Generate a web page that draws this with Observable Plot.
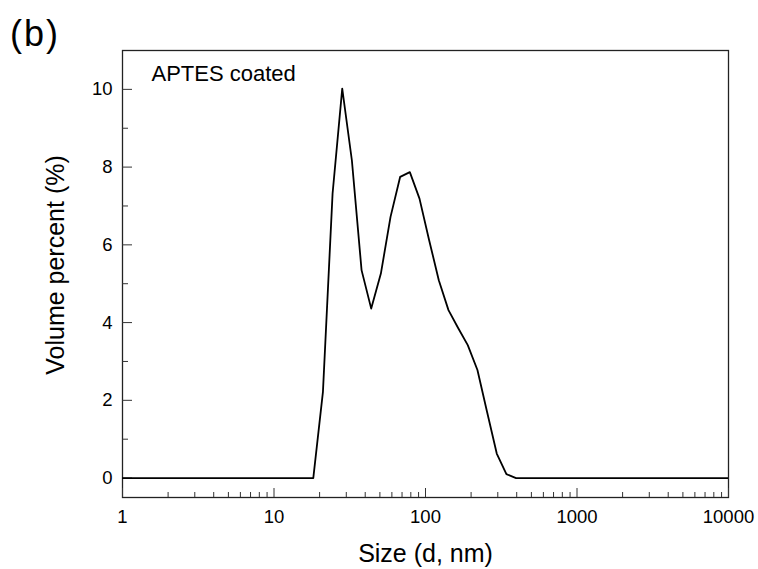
<!DOCTYPE html>
<html>
<head>
<meta charset="utf-8">
<script src="https://cdn.jsdelivr.net/npm/d3@7"></script>
<script src="https://cdn.jsdelivr.net/npm/@observablehq/plot@0.6"></script>
<style>
  html, body { margin: 0; padding: 0; background: #fff; }
  #wrap { position: relative; width: 758px; height: 569px; font-family: "Liberation Sans", Arial, sans-serif; }
  #panel { position: absolute; left: 10px; top: 16px; font-size: 36px; letter-spacing: 2px; line-height: 1; color: #000; z-index: 2; }
</style>
</head>
<body>
<div id="wrap"><div id="panel">(b)</div></div>
<script>
// Hydrodynamic size bins (nm) and volume percent (%)
const sizes = [0.9649, 1.117, 1.294, 1.499, 1.736, 2.01, 2.328, 2.696, 3.122, 3.615, 4.187, 4.849, 5.615, 6.503, 7.531, 8.721, 10.1, 11.7, 13.54, 15.69,
  18.17, 21.04, 24.36, 28.21, 32.67, 37.84, 43.82, 50.75, 58.77, 68.06, 78.82, 91.28, 105.7, 122.4, 141.8, 164.2, 190.1, 220.2, 255.0, 295.3, 342.0, 396.1,
  458.7, 531.2, 615.1, 712.4, 825.0, 955.4, 1106, 1281, 1484, 1718, 1990, 2305, 2669, 3091, 3580, 4145, 4801, 5560, 6439, 7456, 8635, 10000];
const volume = [0, 0, 0, 0, 0, 0, 0, 0, 0, 0, 0, 0, 0, 0, 0, 0, 0, 0, 0, 0,
  0, 2.22, 7.32, 10.02, 8.17, 5.35, 4.36, 5.26, 6.72, 7.75, 7.87, 7.19, 6.12, 5.09, 4.32, 3.86, 3.42, 2.78, 1.70, 0.63, 0.10, 0,
  0, 0, 0, 0, 0, 0, 0, 0, 0, 0, 0, 0, 0, 0, 0, 0, 0, 0, 0, 0, 0, 0];
const xMajor = [1, 10, 100, 1000, 10000];
const xMinor = [2,3,4,5,6,7,8,9,20,30,40,50,60,70,80,90,200,300,400,500,600,700,800,900,2000,3000,4000,5000,6000,7000,8000,9000];
const yMajor = [0, 2, 4, 6, 8, 10];
const yMinor = [1, 3, 5, 7, 9];
const xTitle = "Size (d, nm)";
const yTitle = "Volume percent (%)";
const sampleLabel = "APTES coated";

const data = sizes.map((s, i) => ({size: s, vol: volume[i]}));

const chart = Plot.plot({
  width: 758,
  height: 569,
  marginLeft: 122,
  marginRight: 30,
  marginTop: 50,
  marginBottom: 72,
  style: {fontFamily: "Liberation Sans, Arial, sans-serif", fontSize: "18px", color: "#000", background: "transparent"},
  x: {type: "log", domain: [1, 10000]},
  y: {domain: [-0.5, 11]},
  marks: [
    Plot.frame({stroke: "#222", strokeWidth: 1.3}),
    Plot.axisX({ticks: xMajor, tickSize: -9, tickPadding: 21, tickFormat: d => String(d), label: null, fontSize: 18.5, stroke: "#333"}),
    Plot.axisX({ticks: xMinor, tickSize: -5, tickFormat: () => "", label: null, stroke: "#333"}),
    Plot.axisY({ticks: yMajor, tickSize: -10, tickPadding: 20, tickFormat: d => String(d), label: null, fontSize: 18.5, stroke: "#333"}),
    Plot.axisY({ticks: yMinor, tickSize: -6, tickFormat: () => "", label: null, stroke: "#333"}),
    Plot.line(data, {x: "size", y: "vol", stroke: "#000", strokeWidth: 1.8, clip: true}),
    Plot.text([sampleLabel], {frameAnchor: "top-left", text: d => d, dx: 29, dy: 15, fontSize: 22, textAnchor: "start", lineAnchor: "top"}),
    Plot.text([xTitle], {frameAnchor: "bottom", text: d => d, dy: 56, fontSize: 25, textAnchor: "middle", lineAnchor: "middle"}),
    Plot.text([yTitle], {frameAnchor: "left", text: d => d, dx: -67, dy: -9, rotate: -90, fontSize: 25, textAnchor: "middle", lineAnchor: "middle"})
  ]
});
document.getElementById("wrap").appendChild(chart);
chart.style.position = "absolute";
chart.style.left = "0";
chart.style.top = "0";
</script>
</body>
</html>
